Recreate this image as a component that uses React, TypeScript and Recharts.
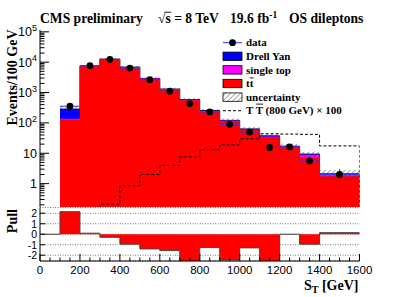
import React from 'react';
import {
  ComposedChart,
  Area,
  Line,
  Scatter,
  ErrorBar,
  XAxis,
  YAxis,
  Legend,
  CartesianGrid,
} from 'recharts';

// ---------- data (events / 100 GeV) ----------
const binEdges = [100, 200, 300, 400, 500, 600, 700, 800, 900, 1000, 1100, 1200, 1300, 1400, 1600];
const ttbar = [130, 7200, 12300, 6700, 2800, 1250, 560, 240, 112, 58, 34, 15.5, 7.3, 1.75];
const singleTop = [6, 180, 260, 160, 80, 38, 18, 9, 5, 3, 2, 1.0, 1.6, 0.25];
const drellYan = [150, 120, 110, 70, 35, 18, 10, 6, 4, 2.5, 1.5, 0.6, 0.5, 0.1];
const mcRelUncertainty = [0.25, 0.08, 0.08, 0.08, 0.09, 0.1, 0.12, 0.13, 0.15, 0.16, 0.18, 0.2, 0.2, 0.35];
const dataValues = [355, 7700, 12300, 6400, 2650, 1110, 435, 230, 90, 50, 15.5, 16.2, 5.6, 2.0];
const dataErrors = [19, 88, 111, 80, 51, 33, 21, 15, 9.5, 7, 3.9, 4, 2.4, 1.0];
const signalTT800x100 = [0.05, 0.1, 0.21, 0.85, 2.0, 4.0, 7.6, 13, 19, 30, 44, 43, 42, 17.5];

const pullEdges = [0, 100, 200, 300, 400, 500, 600, 700, 800, 900, 1000, 1100, 1200, 1300, 1400, 1600];
const pullValues = [0, 2.15, 0.1, -0.29, -0.95, -1.4, -1.56, -3, -1.27, -2.45, -1.3, -3, 0, -0.95, 0.15];

const xTickValues = [0, 50, 100, 150, 200, 250, 300, 350, 400, 450, 500, 550, 600, 650, 700, 750, 800, 850, 900, 950, 1000, 1050, 1100, 1150, 1200, 1250, 1300, 1350, 1400, 1450, 1500, 1550, 1600];
const xLabelStep = 200;
const yDecades = [0.1, 1, 10, 100, 1000, 10000];
const yMajorTicks = [1, 10, 100, 1000, 10000, 100000];
const pullTicks = [-2, -1, 0, 1, 2];

const Y_MIN = 0.17;
const Y_MAX = 1.15e5;

// ---------- tables ----------
const nBins = ttbar.length;
const mainRows = binEdges.map((lo, i) => {
  const j = Math.min(i, nBins - 1);
  const tt = ttbar[j];
  const ttst = tt + singleTop[j];
  const total = ttst + drellYan[j];
  const u = mcRelUncertainty[j];
  return {
    x: lo,
    tt,
    ttst,
    total,
    band: [total * (1 - u), total * (1 + u)],
    sig: i < nBins ? signalTT800x100[j] : Y_MIN / 10,
  };
});

const dataPoints = dataValues.map((v, i) => ({
  x: (binEdges[i] + binEdges[i + 1]) / 2,
  y: v,
  ex: (binEdges[i + 1] - binEdges[i]) / 2,
  ey: dataErrors[i],
}));

const pullRows = pullEdges.map((lo, i) => ({
  x: lo,
  pull: i < pullValues.length ? pullValues[i] : 0,
}));

const yTickValues: number[] = [];
yDecades.forEach((d) => {
  for (let m = 1; m <= 9; m++) {
    const v = +(d * m).toPrecision(3);
    if (v >= Y_MIN && v <= Y_MAX) yTickValues.push(v);
  }
});
yTickValues.push(100000);

const SANS = '"Liberation Sans", Arial, Helvetica, sans-serif';
const SERIF = '"Liberation Serif", "Times New Roman", serif';

// ---------- tick renderers ----------
function MainYTick(props: any) {
  const { x, y, payload } = props;
  const v = payload.value as number;
  const lg = Math.log10(v);
  const exp = Math.round(lg);
  const isMajor = Math.abs(lg - exp) < 1e-6 && yMajorTicks.includes(v);
  return (
    <g>
      <line x1={x} y1={y} x2={x + (isMajor ? 9 : 4.5)} y2={y} stroke="#000" strokeWidth={1} />
      {isMajor && (
        <text x={x - 3} y={y} dy="0.36em" textAnchor="end" fontFamily={SANS} fontSize={12.5} fill="#000">
          {exp === 0 ? '1' : exp === 1 ? '10' : (
            <>
              10
              <tspan dy={-5.5} fontSize={9}>{exp}</tspan>
            </>
          )}
        </text>
      )}
    </g>
  );
}

function MainXTick(props: any) {
  const { x, y, payload } = props;
  const v = payload.value as number;
  const len = v % xLabelStep === 0 ? 6 : 3;
  return <line x1={x} y1={y} x2={x} y2={y - len} stroke="#000" strokeWidth={1} />;
}

function PullXTick(props: any) {
  const { x, y, payload } = props;
  const v = payload.value as number;
  const major = v % xLabelStep === 0;
  return (
    <g>
      <line x1={x} y1={y} x2={x} y2={y - (major ? 7 : 3.5)} stroke="#000" strokeWidth={1} />
      {major && (
        <text x={x} y={y + 13} textAnchor="middle" fontFamily={SANS} fontSize={11.5} fill="#000">
          {v}
        </text>
      )}
    </g>
  );
}

function PullYTick(props: any) {
  const { x, y, payload } = props;
  return (
    <g>
      <line x1={x} y1={y} x2={x + 5} y2={y} stroke="#000" strokeWidth={1} />
      <text x={x - 3} y={y} dy="0.36em" textAnchor="end" fontFamily={SANS} fontSize={10.5} fill="#000">
        {payload.value}
      </text>
    </g>
  );
}

// ---------- legend ----------
function LegendBox() {
  const rowY = (i: number) => 8.7 + 13.6 * i;
  const tx = 26;
  const textProps = { fontFamily: SERIF, fontWeight: 700, fontSize: 11, fill: '#000' } as const;
  return (
    <svg width={150} height={86} style={{ overflow: 'visible', display: 'block' }}>
      <defs>
        <pattern id="hatchLeg" patternUnits="userSpaceOnUse" width="3.5" height="3.5" patternTransform="rotate(45)">
          <line x1="0" y1="0" x2="0" y2="3.5" stroke="#444" strokeWidth="0.9" />
        </pattern>
      </defs>
      {/* data */}
      <line x1={3} x2={22} y1={rowY(0)} y2={rowY(0)} stroke="#3333ff" strokeWidth={1} />
      <circle cx={12.5} cy={rowY(0)} r={3.4} fill="#000" />
      <text x={tx} y={rowY(0)} dy="0.34em" {...textProps}>data</text>
      {/* Drell Yan */}
      <rect x={3} y={rowY(1) - 4.2} width={19} height={8.4} fill="#0000ff" stroke="#000" strokeWidth={0.8} />
      <text x={tx} y={rowY(1)} dy="0.34em" {...textProps}>Drell Yan</text>
      {/* single top */}
      <rect x={3} y={rowY(2) - 4.2} width={19} height={8.4} fill="#ff00ff" stroke="#000" strokeWidth={0.8} />
      <text x={tx} y={rowY(2)} dy="0.34em" {...textProps}>single top</text>
      {/* ttbar */}
      <rect x={3} y={rowY(3) - 4.2} width={19} height={8.4} fill="#ff0000" stroke="#000" strokeWidth={0.8} />
      <text x={tx} y={rowY(3)} dy="0.34em" {...textProps}>tt</text>
      <line x1={tx + 3.9} x2={tx + 7.6} y1={rowY(3) - 5.6} y2={rowY(3) - 5.6} stroke="#000" strokeWidth={0.9} />
      {/* uncertainty */}
      <rect x={3} y={rowY(4) - 4.2} width={19} height={8.4} fill="url(#hatchLeg)" stroke="#000" strokeWidth={0.8} />
      <text x={tx} y={rowY(4)} dy="0.34em" {...textProps}>uncertainty</text>
      {/* signal */}
      <line x1={3} x2={22} y1={rowY(5)} y2={rowY(5)} stroke="#000" strokeWidth={1} strokeDasharray="3 2" />
      <text x={tx} y={rowY(5)} dy="0.34em" {...textProps}>T T (800 GeV) × 100</text>
      <line x1={tx + 10.2} x2={tx + 17} y1={rowY(5) - 6.6} y2={rowY(5) - 6.6} stroke="#000" strokeWidth={0.9} />
    </svg>
  );
}

export default function App() {
  return (
    <div style={{ position: 'absolute', left: 0, top: 0, width: 399, height: 297, background: '#fff', overflow: 'hidden' }}>
      {/* main panel */}
      <div style={{ position: 'absolute', left: 0, top: 0 }}>
        <ComposedChart width={399} height={207} data={mainRows} margin={{ top: 30, right: 39.5, bottom: 0, left: 0 }}>
          <defs>
            <pattern id="hatch" patternUnits="userSpaceOnUse" width="3.5" height="3.5" patternTransform="rotate(45)">
              <line x1="0" y1="0" x2="0" y2="3.5" stroke="#333" strokeWidth="0.9" />
            </pattern>
          </defs>
          <XAxis
            type="number"
            dataKey="x"
            domain={[0, 1600]}
            ticks={xTickValues}
            interval={0}
            height={0}
            tickSize={0}
            tickMargin={0}
            tick={(p: any) => <MainXTick {...p} />}
            axisLine={{ stroke: '#000' }}
            tickLine={false}
            allowDataOverflow
          />
          <XAxis xAxisId="top" orientation="top" type="number" domain={[0, 1600]} height={0} tick={false} tickLine={false} axisLine={{ stroke: '#000' }} />
          <YAxis
            type="number"
            scale="log"
            domain={[Y_MIN, Y_MAX]}
            ticks={yTickValues}
            interval={0}
            width={40}
            tickSize={0}
            tickMargin={0}
            tick={(p: any) => <MainYTick {...p} />}
            axisLine={{ stroke: '#000' }}
            tickLine={false}
            allowDataOverflow
          />
          <YAxis yAxisId="right" orientation="right" type="number" domain={[0, 1]} width={0} tick={false} tickLine={false} axisLine={{ stroke: '#000' }} />
          <Area type="stepAfter" dataKey="total" fill="#0000ff" fillOpacity={1} stroke="#1a0066" strokeWidth={1} dot={false} activeDot={false} isAnimationActive={false} />
          <Area type="stepAfter" dataKey="ttst" fill="#ff00ff" fillOpacity={1} stroke="none" dot={false} activeDot={false} isAnimationActive={false} />
          <Area type="stepAfter" dataKey="tt" fill="#ff0000" fillOpacity={1} stroke="none" dot={false} activeDot={false} isAnimationActive={false} />
          <Area type="stepAfter" dataKey="band" fill="url(#hatch)" fillOpacity={1} stroke="none" dot={false} activeDot={false} isAnimationActive={false} />
          <Line type="stepAfter" dataKey="sig" stroke="#000" strokeWidth={1} strokeDasharray="3 2" dot={false} activeDot={false} isAnimationActive={false} />
          <Scatter
            data={dataPoints}
            dataKey="y"
            fill="#000"
            isAnimationActive={false}
            shape={(p: any) => <circle cx={p.cx} cy={p.cy} r={3.4} fill="#000" />}
          >
            <ErrorBar dataKey="ey" direction="y" width={0} stroke="#3333ff" strokeWidth={1} isAnimationActive={false} />
            <ErrorBar dataKey="ex" direction="x" width={0} stroke="#3333ff" strokeWidth={1} isAnimationActive={false} />
          </Scatter>
          <Legend
            layout="vertical"
            align="center"
            verticalAlign="middle"
            content={() => <LegendBox />}
            wrapperStyle={{ position: 'absolute', left: 220, top: 34, width: 150, height: 86 }}
          />
        </ComposedChart>
      </div>

      {/* pull panel */}
      <div style={{ position: 'absolute', left: 0, top: 207 }}>
        <ComposedChart width={399} height={90} data={pullRows} margin={{ top: 0.5, right: 39.5, bottom: 0, left: 0 }}>
          <CartesianGrid horizontal vertical={false} stroke="#777" strokeDasharray="1 1.5" />
          <XAxis
            type="number"
            dataKey="x"
            domain={[0, 1600]}
            ticks={xTickValues}
            interval={0}
            height={36}
            tickSize={0}
            tickMargin={0}
            tick={(p: any) => <PullXTick {...p} />}
            axisLine={{ stroke: '#000' }}
            tickLine={false}
            allowDataOverflow
          />
          <XAxis xAxisId="top" orientation="top" type="number" domain={[0, 1600]} height={0} tick={false} tickLine={false} axisLine={{ stroke: '#000' }} />
          <YAxis
            type="number"
            domain={[-2.55, 2.55]}
            ticks={pullTicks}
            interval={0}
            width={40}
            tickSize={0}
            tickMargin={0}
            tick={(p: any) => <PullYTick {...p} />}
            axisLine={{ stroke: '#000' }}
            tickLine={false}
            allowDataOverflow
          />
          <YAxis yAxisId="right" orientation="right" type="number" domain={[0, 1]} width={0} tick={false} tickLine={false} axisLine={{ stroke: '#000' }} />
          <Area type="stepAfter" dataKey="pull" baseValue={0} fill="#ff0000" fillOpacity={1} stroke="#444" strokeWidth={1} dot={false} activeDot={false} isAnimationActive={false} />
        </ComposedChart>
      </div>

      {/* titles */}
      <svg width={399} height={297} style={{ position: 'absolute', left: 0, top: 0, pointerEvents: 'none' }}>
        <g fontFamily={SERIF} fontWeight={700} fill="#000">
          <text x={40} y={22.7} fontSize={13.6}>CMS preliminary</text>
          <text x={158} y={22.7} fontSize={13.6}>√s = 8 TeV</text>
          <line x1={164.5} x2={171} y1={12.2} y2={12.2} stroke="#000" strokeWidth={0.9} />
          <text x={230} y={22.7} fontSize={13.6}>
            19.6 fb<tspan dy={-5} fontSize={9.5}>-1</tspan>
          </text>
          <text x={289} y={22.7} fontSize={13.6}>OS dileptons</text>
          <text transform="translate(16.7,29.5) rotate(-90)" textAnchor="end" fontSize={14}>Events/100 GeV</text>
          <text transform="translate(16.7,209) rotate(-90)" textAnchor="end" fontSize={14}>Pull</text>
          <text x={358.5} y={290} textAnchor="end" fontSize={14}>
            S<tspan dy={3} fontSize={10}>T</tspan>
            <tspan dy={-3}> [GeV]</tspan>
          </text>
        </g>
      </svg>
    </div>
  );
}
